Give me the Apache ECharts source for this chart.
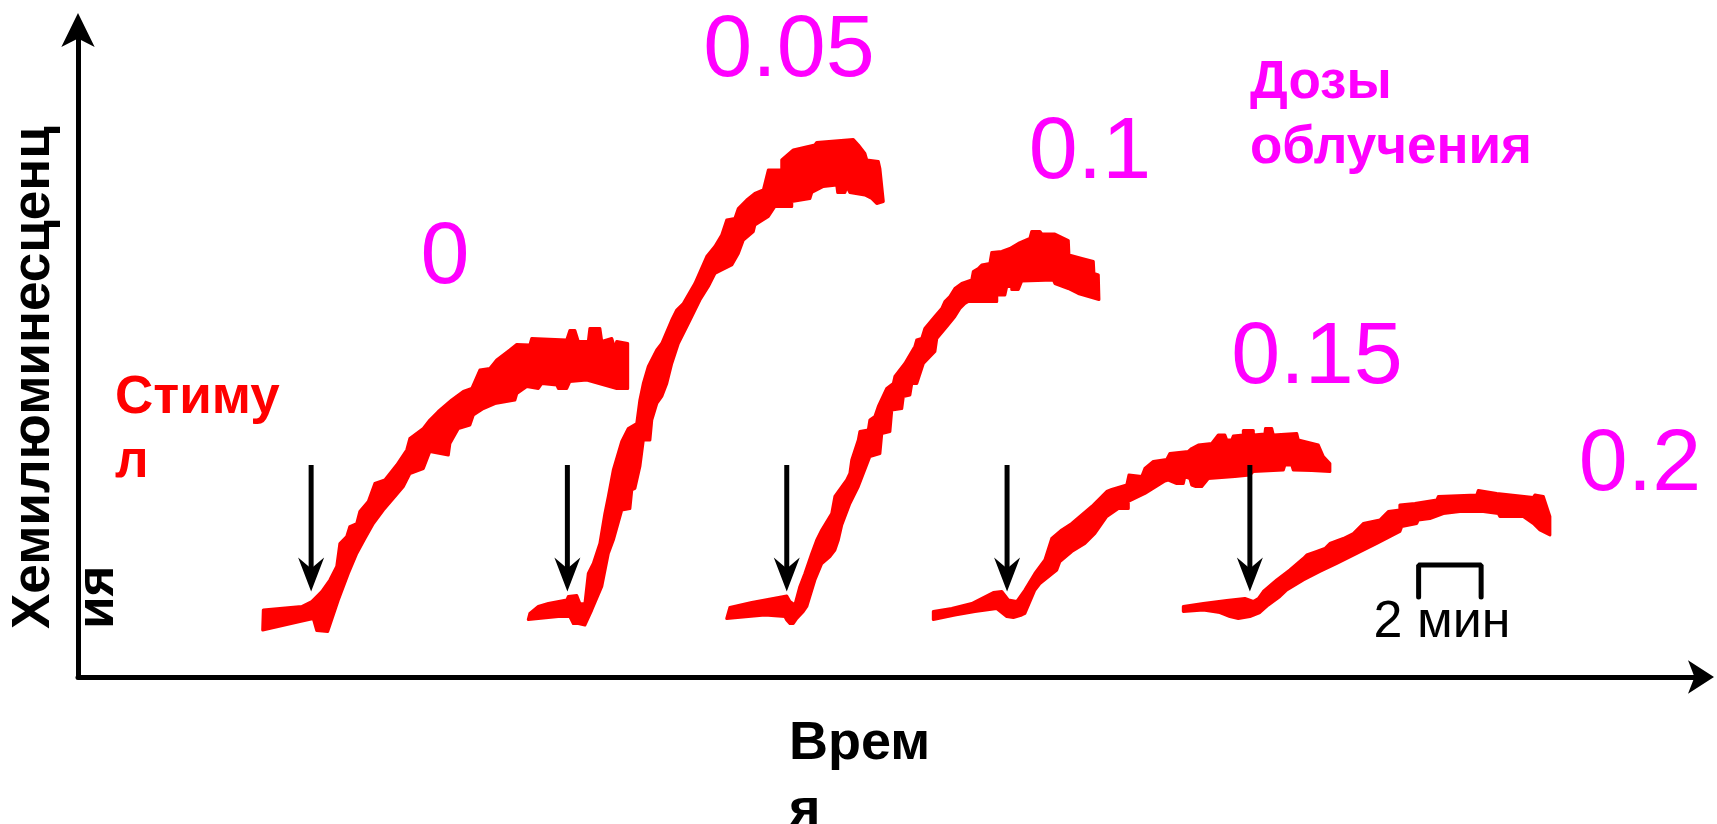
<!DOCTYPE html>
<html>
<head>
<meta charset="utf-8">
<title>Хемилюминесценция</title>
<script src="https://cdn.jsdelivr.net/npm/echarts@6/dist/echarts.min.js"></script>
<style>
html, body { margin: 0; padding: 0; background: #fff; }
#chart { width: 1717px; height: 824px; }
</style>
</head>
<body>
<div id="chart"></div>
<script>
// дозы облучения, по одной на каждую запись
const doses = ['0', '0.05', '0.1', '0.15', '0.2'];

// моменты добавления стимула, мин
const stimulusTimes = [7.46, 15.66, 22.68, 29.73, 37.50];
const arrowFrom = 42.4;
const arrowTo = 17.1;

// записи: верхний и нижний край полосы, [мин, отн. ед.]
const trace0Top = [[5.93,13.4],[7.16,14.1],[7.48,15.1],[7.80,17.1],[8.06,19.4],[8.28,22.1],[8.38,26.7],[8.60,28.1],[8.70,30.1],[8.92,30.7],[9.02,33.1],[9.29,35.1],[9.50,38.7],[9.82,39.4],[10.20,42.4],[10.52,45.4],[10.62,47.7],[11.05,49.7],[11.26,51.4],[11.53,53.1],[11.96,55.4],[12.33,57.1],[12.60,57.7],[12.86,61.4],[13.18,61.7],[13.40,63.4],[13.82,65.4],[14.04,66.5],[14.46,66.4],[14.52,67.7],[15.64,67.4],[15.74,69.3],[15.90,69.3],[16.01,67.1],[16.33,67.1],[16.38,69.7],[16.70,69.7],[16.76,67.1],[17.08,67.7],[17.18,65.7],[17.24,67.1],[17.59,66.7]];
const trace0Bottom = [[5.91,9.4],[7.10,11.1],[7.53,11.7],[7.64,9.3],[7.99,9.1],[8.33,15.4],[8.65,20.7],[8.92,24.7],[9.18,27.7],[9.45,30.7],[9.77,33.4],[10.14,36.1],[10.41,38.1],[10.62,40.7],[11.05,41.7],[11.26,45.1],[11.85,44.4],[11.90,46.7],[12.17,49.7],[12.54,50.4],[12.65,52.4],[12.97,53.7],[13.34,54.7],[13.98,55.4],[14.04,56.7],[14.36,58.1],[14.73,57.7],[14.84,58.7],[15.32,58.4],[15.37,57.7],[15.64,57.7],[15.74,59.1],[16.28,59.4],[17.24,57.7],[17.59,57.7]];

const trace1Top = [[14.46,12.7],[14.73,14.1],[15.05,14.7],[15.64,15.4],[15.69,16.1],[15.96,16.3],[16.06,14.7],[16.22,14.6],[16.33,20.7],[16.49,22.7],[16.70,26.7],[16.86,32.7],[16.97,36.1],[17.13,41.4],[17.40,47.1],[17.61,49.7],[17.88,50.7],[17.98,55.4],[18.09,58.7],[18.25,62.1],[18.52,65.4],[18.68,66.7],[19.00,71.4],[19.16,73.4],[19.37,74.7],[19.74,78.7],[20.12,84.1],[20.38,86.1],[20.60,88.4],[20.76,91.4],[21.02,91.7],[21.13,93.7],[21.40,95.4],[21.66,96.7],[21.93,97.4],[22.09,101.4],[22.52,101.4],[22.52,103.4],[22.89,105.4],[23.58,106.4],[23.64,106.9],[24.81,107.5],[24.97,106.4],[25.18,104.7],[25.24,103.4],[25.61,103.1],[25.66,101.7],[25.77,95.1]];
const trace1Bottom = [[14.41,11.5],[15.37,12.1],[15.74,12.1],[15.85,10.7],[16.01,10.7],[16.22,10.4],[16.44,13.4],[16.76,18.1],[16.97,24.7],[17.13,27.4],[17.40,33.4],[17.66,33.7],[17.72,37.4],[17.82,37.7],[17.98,42.1],[18.09,47.4],[18.30,47.4],[18.36,51.4],[18.52,54.7],[18.68,56.1],[18.84,58.7],[19.00,62.7],[19.21,66.7],[19.53,70.7],[19.90,75.4],[20.17,78.1],[20.38,80.7],[20.60,81.4],[20.92,82.4],[21.13,84.7],[21.29,87.4],[21.61,89.1],[21.66,90.4],[22.09,92.1],[22.30,94.1],[22.84,94.1],[22.84,95.1],[23.42,95.7],[23.48,96.9],[23.85,98.1],[24.28,98.4],[24.31,96.9],[24.54,96.9],[24.60,98.1],[24.70,96.9],[25.18,96.4],[25.40,95.7],[25.56,94.7],[25.77,95.1]];

const trace2Top = [[20.86,13.9],[21.56,14.9],[22.68,16.2],[22.78,15.1],[22.94,14.4],[23.10,18.1],[23.26,20.7],[23.48,24.7],[23.64,27.4],[23.80,29.4],[24.12,32.7],[24.22,36.1],[24.60,39.4],[24.70,40.7],[24.76,43.4],[24.97,47.4],[25.02,49.1],[25.29,49.4],[25.34,51.4],[25.50,52.1],[25.61,54.1],[25.88,57.7],[26.09,58.7],[26.14,60.1],[26.46,62.7],[26.78,66.1],[26.84,67.4],[27.00,67.7],[27.10,69.7],[27.42,72.1],[27.64,73.7],[27.74,75.1],[27.90,76.1],[28.06,77.7],[28.28,78.7],[28.60,79.4],[28.65,81.1],[28.81,81.7],[28.92,82.4],[29.18,82.7],[29.24,84.9],[29.56,85.1],[29.82,85.7],[30.09,86.7],[30.46,87.7],[30.52,89.1],[30.78,89.1],[30.84,88.6],[31.26,88.6],[31.69,87.3],[31.71,84.4],[32.12,83.7],[32.49,83.1],[32.51,80.7],[32.65,80.4],[32.67,75.5]];
const trace2Bottom = [[20.76,11.7],[21.45,12.1],[21.98,12.4],[22.62,12.1],[22.68,11.4],[22.78,10.7],[22.89,10.7],[23.00,11.7],[23.21,13.1],[23.32,14.1],[23.58,19.4],[23.80,22.7],[24.06,24.1],[24.22,25.4],[24.33,27.4],[24.44,30.4],[24.70,34.7],[24.97,38.1],[25.34,44.1],[25.66,44.7],[25.72,48.7],[25.98,49.1],[26.04,53.4],[26.36,53.7],[26.41,56.1],[26.62,56.4],[26.68,58.7],[26.84,58.7],[27.05,62.7],[27.42,65.1],[27.48,67.7],[27.80,70.1],[28.06,72.1],[28.22,73.7],[28.38,74.7],[28.49,75.1],[29.40,75.1],[29.40,76.4],[29.66,76.4],[29.72,78.1],[29.88,78.1],[29.88,77.5],[30.09,77.5],[30.20,79.2],[31.21,79.4],[31.26,78.7],[31.69,77.7],[32.01,76.7],[32.67,75.5]];

const trace3Top = [[27.37,13.1],[27.96,13.7],[28.60,14.7],[29.29,16.9],[29.56,17.1],[29.77,15.4],[30.04,15.1],[30.30,17.4],[30.62,20.7],[30.94,23.4],[31.16,27.7],[31.48,29.4],[31.80,30.7],[32.12,32.4],[32.44,34.1],[32.92,37.1],[33.08,37.5],[33.56,38.4],[33.63,40.4],[34.04,40.1],[34.14,41.7],[34.41,43.1],[34.84,43.5],[34.94,44.7],[35.53,45.1],[35.64,45.7],[35.85,46.4],[36.28,46.7],[36.49,48.4],[36.70,48.4],[36.76,47.4],[36.92,47.4],[36.97,48.2],[37.29,48.4],[37.29,49.3],[37.61,49.3],[37.61,48.4],[37.98,48.6],[38.00,49.7],[38.20,49.7],[38.25,48.4],[39.00,48.7],[39.05,47.4],[39.69,46.4],[39.85,44.1],[40.06,42.7],[40.06,41.1]];
const trace3Bottom = [[27.37,11.5],[28.06,12.4],[28.70,13.1],[29.40,13.7],[29.72,12.1],[29.93,11.9],[30.20,12.4],[30.30,12.7],[30.62,17.4],[30.78,18.7],[31.32,21.4],[31.42,23.1],[31.80,25.1],[32.22,26.7],[32.54,28.7],[32.92,32.1],[33.29,33.7],[33.61,33.7],[33.61,35.1],[34.14,36.7],[34.78,39.2],[34.89,39.4],[35.16,38.7],[35.37,38.7],[35.42,40.1],[35.58,39.7],[35.64,38.4],[35.77,38.1],[35.96,38.1],[36.17,39.7],[37.02,40.1],[37.50,40.4],[37.61,41.1],[38.57,41.4],[38.62,42.4],[38.84,42.4],[38.89,41.4],[39.48,41.3],[40.06,41.1]];

const trace4Top = [[35.37,14.1],[36.01,14.7],[36.76,15.3],[37.34,15.7],[37.61,15.1],[37.77,15.7],[37.93,17.1],[38.36,19.4],[38.78,21.4],[39.21,23.7],[39.32,24.4],[39.64,25.1],[39.90,25.7],[40.06,26.7],[40.49,27.7],[40.81,28.7],[41.13,30.7],[41.66,31.4],[41.77,32.1],[41.93,33.1],[42.30,33.4],[42.30,34.4],[42.78,34.7],[43.48,35.4],[43.53,36.1],[44.76,36.4],[44.81,37.3],[45.40,36.7],[46.57,35.9],[46.62,36.4],[46.89,36.1],[47.10,32.1],[47.10,28.4]];
const trace4Bottom = [[35.37,13.1],[36.01,13.4],[36.54,12.9],[36.86,12.1],[37.13,11.7],[37.50,12.1],[37.82,12.9],[38.09,14.4],[38.46,16.1],[38.68,17.4],[39.21,19.4],[39.74,21.1],[40.28,22.7],[40.92,24.7],[41.56,26.7],[42.30,29.1],[42.36,30.1],[42.84,30.7],[42.89,31.4],[43.26,31.7],[43.69,32.7],[44.22,33.1],[44.97,33.1],[45.45,32.7],[45.50,32.1],[46.25,32.1],[46.57,30.7],[46.78,29.4],[47.10,28.4]];

// масштаб времени: 2 мин
const scaleBarStart = 42.9;
const scaleBarMinutes = 2;
const scaleBarLow = 16;
const scaleBarHigh = 22.4;

const traces = [
  { top: trace0Top, bottom: trace0Bottom },
  { top: trace1Top, bottom: trace1Bottom },
  { top: trace2Top, bottom: trace2Bottom },
  { top: trace3Top, bottom: trace3Bottom },
  { top: trace4Top, bottom: trace4Bottom }
];

const FONT = '"Liberation Sans", Arial, sans-serif';

// подписи доз (положение на рисунке, px)
const doseLabelPos = [[445, 259], [789, 52], [1090, 154], [1317, 359], [1640, 466]];

let myChart = echarts.init(document.getElementById('chart'));

myChart.setOption({
  animation: false,
  backgroundColor: '#fff',
  grid: {
    left: 78,
    right: 14,
    top: 27,
    bottom: 147
  },
  xAxis: {
    type: 'value',
    min: 0,
    max: 52,
    axisLine: {
      show: true,
      symbol: ['none', 'arrow'],
      symbolSize: [25, 26],
      symbolOffset: [0, 11],
      lineStyle: { color: '#000', width: 5 }
    },
    axisTick: { show: false },
    axisLabel: { show: false },
    splitLine: { show: false }
  },
  yAxis: {
    type: 'value',
    min: 0,
    max: 130,
    axisLine: {
      show: true,
      symbol: ['none', 'arrow'],
      symbolSize: [25, 34],
      symbolOffset: [0, 14],
      lineStyle: { color: '#000', width: 5 }
    },
    axisTick: { show: false },
    axisLabel: { show: false },
    splitLine: { show: false }
  },
  graphic: [
    {
      type: 'text',
      x: 2,
      y: 629,
      rotation: Math.PI / 2,
      style: {
        text: 'Хемилюминесценц\nия',
        fontSize: 53,
        fontWeight: 'bold',
        fontFamily: FONT,
        lineHeight: 64,
        fill: '#000',
        align: 'left',
        verticalAlign: 'top'
      }
    },
    {
      type: 'text',
      x: 789,
      y: 711,
      style: {
        text: 'Врем\nя',
        fontSize: 54,
        fontWeight: 'bold',
        fontFamily: FONT,
        lineHeight: 67,
        fill: '#000',
        align: 'left',
        verticalAlign: 'top'
      }
    },
    {
      type: 'text',
      x: 115,
      y: 366,
      style: {
        text: 'Стиму\nл',
        fontSize: 53,
        fontWeight: 'bold',
        fontFamily: FONT,
        lineHeight: 64,
        fill: '#ff0000',
        align: 'left',
        verticalAlign: 'top'
      }
    },
    {
      type: 'text',
      x: 1250,
      y: 51,
      style: {
        text: 'Дозы\nоблучения',
        fontSize: 53,
        fontWeight: 'bold',
        fontFamily: FONT,
        lineHeight: 65,
        fill: '#ff00ff',
        align: 'left',
        verticalAlign: 'top'
      }
    },
    {
      type: 'text',
      x: 1442,
      y: 623,
      style: {
        text: scaleBarMinutes + ' мин',
        fontSize: 52,
        fontFamily: FONT,
        fill: '#000',
        align: 'center',
        verticalAlign: 'middle'
      }
    }
  ].concat(doses.map((d, i) => ({
    type: 'text',
    x: doseLabelPos[i][0],
    y: doseLabelPos[i][1],
    style: {
      text: d,
      fontSize: 88,
      fontFamily: FONT,
      fill: '#ff00ff',
      align: 'center',
      verticalAlign: 'middle'
    }
  }))),
  series: [
    {
      type: 'custom',
      clip: false,
      renderItem: function (params, api) {
        let tr = traces[params.dataIndex];
        let pts = tr.top.concat(tr.bottom.slice().reverse()).map(p => api.coord(p));
        return {
          type: 'polygon',
          shape: { points: pts },
          style: { fill: '#ff0000', stroke: '#ff0000', lineWidth: 3, lineJoin: 'round' }
        };
      },
      data: traces.map(tr => tr.top[0])
    },
    {
      type: 'custom',
      clip: false,
      renderItem: function (params, api) {
        let from = api.coord([api.value(0), arrowFrom]);
        let tip = api.coord([api.value(0), arrowTo]);
        let x = tip[0], y = tip[1];
        return {
          type: 'group',
          children: [
            {
              type: 'line',
              shape: { x1: from[0], y1: from[1], x2: x, y2: y - 20 },
              style: { stroke: '#000', lineWidth: 5 }
            },
            {
              type: 'polygon',
              shape: { points: [[x, y], [x - 13, y - 34], [x, y - 23], [x + 13, y - 34]] },
              style: { fill: '#000' }
            }
          ]
        };
      },
      data: stimulusTimes.map(t => [t, arrowTo])
    },
    {
      type: 'line',
      showSymbol: false,
      symbol: 'none',
      lineStyle: { color: '#000', width: 5, cap: 'round' },
      data: [
        [scaleBarStart, scaleBarLow],
        [scaleBarStart, scaleBarHigh],
        [scaleBarStart + scaleBarMinutes, scaleBarHigh],
        [scaleBarStart + scaleBarMinutes, scaleBarLow]
      ]
    }
  ]
});

window.addEventListener('resize', () => {
  myChart.resize();
});
</script>
</body>
</html>
